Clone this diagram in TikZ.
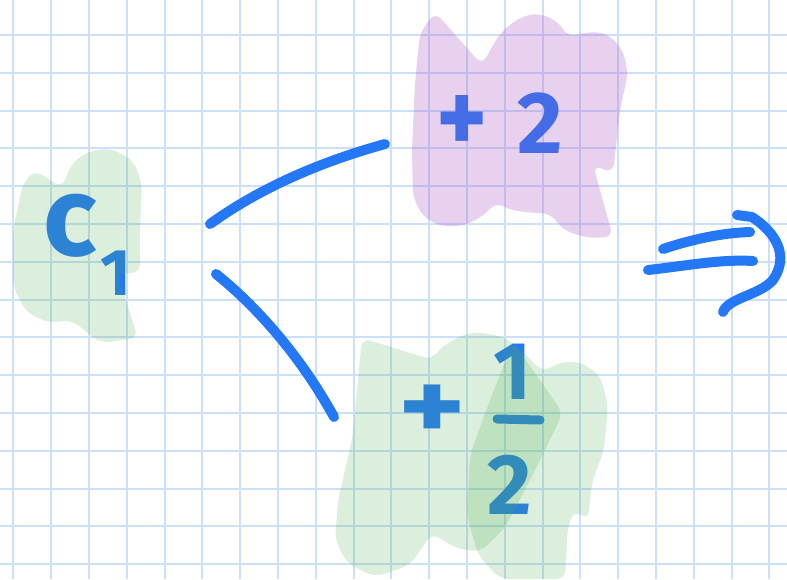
\documentclass[tikz,border=0pt]{standalone}
\usepackage{fontspec}
\setmainfont{Fira Sans}
\definecolor{gridblue}{RGB}{204,224,250}
\definecolor{inkblue}{RGB}{36,120,245}
\definecolor{blobgreen}{RGB}{76,175,80}
\definecolor{blobpurple}{RGB}{163,73,189}
\tikzset{
  gridline/.style={draw=gridblue, line width=2pt},
  ink/.style={draw=inkblue, line width=10pt, line cap=round, line join=round},
  hand/.style={text=inkblue, inner sep=0pt, font=\bfseries\fontsize{88}{88}\selectfont},
  gblob/.style={fill=blobgreen, fill opacity=0.2, draw=none, rounded corners=9pt},
  pblob/.style={fill=blobpurple, fill opacity=0.25, draw=none, rounded corners=9pt}
}
\begin{document}
\begin{tikzpicture}[x=1pt,y=-1pt]
\useasboundingbox (0,0) rectangle (787,579);
\fill[white] (0,0) rectangle (787,579);
% grid paper
\foreach \i in {0,...,20} \draw[gridline] ({13.3+37.8*\i},0) -- ++(0,579);
\foreach \j in {1,...,15} \draw[gridline] (0,{-2.8+37.8*\j}) -- ++(787,0);

% texts
\node[hand, font=\bfseries\fontsize{112}{112}\selectfont, anchor=base west] (c1) at (43,255)
  {c\kern4pt\raisebox{-40pt}{\fontsize{66}{66}\selectfont 1}};
\node[hand] (p2) at (500,123) {\scalebox{1.1}[1.2]{+}\hspace{30pt}2};
\node[hand] (plus) at (432,413) {\scalebox{1.45}[1.15]{+}};
\node[hand, font=\bfseries\fontsize{82}{82}\selectfont] (num) at (513,372) {1};
\node[hand, font=\bfseries\fontsize{86}{86}\selectfont] (den) at (510,485) {2};
\coordinate (barL) at (497,419);
\coordinate (barR) at (540,420);
\draw[ink, line width=9pt] (barL) -- (barR);

% connectors
\coordinate (u1) at (210,224);
\coordinate (u2) at (385,144);
\coordinate (l1) at (216,274);
\coordinate (l2) at (334,417);
\draw[ink] (u1) .. controls (260,188) and (320,162) .. (u2);
\draw[ink] (l1) .. controls (255,305) and (300,355) .. (l2);

% implies arrow
\coordinate (a1) at (663,249);
\coordinate (a2) at (750,232);
\coordinate (b1) at (648,270);
\coordinate (b2) at (753,261);
\coordinate (h1) at (737,215);
\coordinate (h2) at (723,312);
\draw[ink] (a1) .. controls (690,240) and (720,233) .. (a2);
\draw[ink] (b1) .. controls (685,266) and (720,259) .. (b2);
\draw[ink] (h1) -- (752,217) .. controls (775,232) and (790,255) .. (773,280)
  .. controls (760,295) and (728,298) .. (h2);

% blobs
\path[gblob] (35,170) -- (62,188) -- (72,163) -- (87,152) -- (110,148) -- (133,160) -- (142,183)
  -- (140,230) -- (140,273) -- (117,273) -- (138,338) -- (100,343) -- (72,320) -- (50,323)
  -- (27,313) -- (13,287) -- (13,230) -- (23,183) -- cycle;
\path[pblob] (435,12) -- (482,65) -- (500,33) -- (520,17) -- (540,13) -- (560,23) -- (567,37)
  -- (587,32) -- (607,33) -- (623,50) -- (628,73) -- (620,110) -- (613,173) -- (593,165)
  -- (613,237) -- (587,238) -- (563,230) -- (550,213) -- (533,213) -- (510,210) -- (495,202)
  -- (487,213) -- (467,225) -- (443,227) -- (423,217) -- (413,197) -- (412,150) -- (415,83)
  -- (420,33) -- cycle;
\path[gblob] (513,342) -- (543,372) -- (560,362) -- (580,362) -- (600,375) -- (608,405)
  -- (604,450) -- (592,482) -- (588,520) -- (575,510) -- (568,525) -- (565,579)
  -- (500,579) -- (478,555) -- (467,515) -- (470,455) -- (490,400) -- cycle;
\path[gblob] (362,338) -- (433,360) -- (436,352) -- (452,340) -- (472,332) -- (497,335)
  -- (513,342) -- (563,413) -- (535,470) -- (505,528) -- (480,552) -- (455,548) -- (432,533)
  -- (410,565) -- (375,577) -- (347,563) -- (335,540) -- (338,500) -- (352,440) -- (358,380) -- cycle;
\end{tikzpicture}
\end{document}
